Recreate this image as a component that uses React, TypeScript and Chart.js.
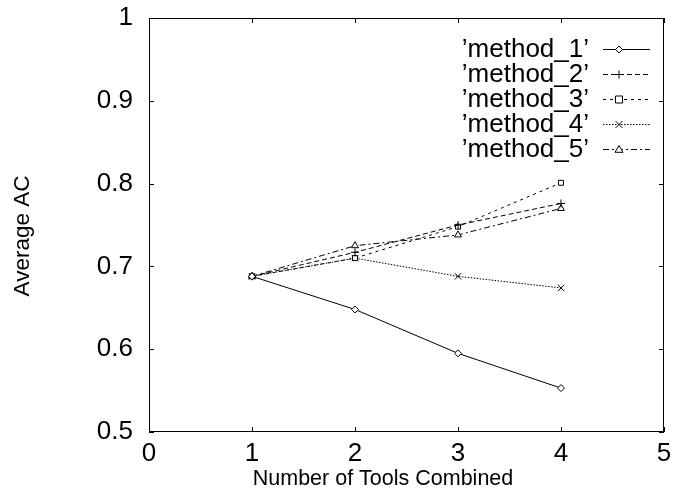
import React, { useEffect, useRef } from "react";
import { Chart, registerables } from "chart.js";

Chart.register(...registerables);

const toolCounts = [1, 2, 3, 4];
const method1 = [0.688, 0.648, 0.595, 0.553];
const method2 = [0.688, 0.717, 0.75, 0.776];
const method3 = [0.688, 0.71, 0.748, 0.801];
const method4 = [0.688, 0.71, 0.688, 0.674];
const method5 = [0.688, 0.725, 0.738, 0.77];
const seriesNames = ["\u2019method_1\u2019", "\u2019method_2\u2019", "\u2019method_3\u2019", "\u2019method_4\u2019", "\u2019method_5\u2019"];
const xTicks = [0, 1, 2, 3, 4, 5];
const yTicks = [0.5, 0.6, 0.7, 0.8, 0.9, 1];
const xTitle = "Number of Tools Combined";
const yTitle = "Average AC";

const FONT = "'Liberation Sans', Arial, Helvetica, sans-serif";

const styles = [
  { dash: [], point: "rectRot", radius: 3.5, fill: "#fff" },
  { dash: [5, 3], point: "cross", radius: 4, fill: "#fff" },
  { dash: [3, 4], point: "rect", radius: 3.5, fill: "#fff" },
  { dash: [1.5, 1.5], point: "crossRot", radius: 4.5, fill: "#fff" },
  { dash: [6, 3, 2, 3], point: "triangle", radius: 4, fill: "#fff" },
];

function drawMarker(ctx: CanvasRenderingContext2D, kind: string, r: number, x: number, y: number) {
  ctx.save();
  ctx.setLineDash([]);
  ctx.strokeStyle = "#000";
  ctx.fillStyle = "#fff";
  ctx.lineWidth = 1;
  ctx.beginPath();
  if (kind === "rectRot") {
    ctx.moveTo(x, y - r);
    ctx.lineTo(x + r, y);
    ctx.lineTo(x, y + r);
    ctx.lineTo(x - r, y);
    ctx.closePath();
    ctx.fill();
    ctx.stroke();
  } else if (kind === "rect") {
    ctx.rect(x - r, y - r, 2 * r, 2 * r);
    ctx.fill();
    ctx.stroke();
  } else if (kind === "cross") {
    ctx.moveTo(x - r, y);
    ctx.lineTo(x + r, y);
    ctx.moveTo(x, y - r);
    ctx.lineTo(x, y + r);
    ctx.stroke();
  } else if (kind === "crossRot") {
    const d = r * 0.75;
    ctx.moveTo(x - d, y - d);
    ctx.lineTo(x + d, y + d);
    ctx.moveTo(x - d, y + d);
    ctx.lineTo(x + d, y - d);
    ctx.stroke();
  } else if (kind === "triangle") {
    ctx.moveTo(x, y - r);
    ctx.lineTo(x + r, y + r * 0.7);
    ctx.lineTo(x - r, y + r * 0.7);
    ctx.closePath();
    ctx.fill();
    ctx.stroke();
  }
  ctx.restore();
}

const decorPlugin = {
  id: "decor",
  afterDraw(chart: any) {
    const ctx = chart.ctx;
    const a = chart.chartArea;
    const xs = chart.scales.x;
    const ys = chart.scales.y;
    ctx.save();
    ctx.strokeStyle = "#000";
    ctx.lineWidth = 1;
    ctx.setLineDash([]);
    ctx.strokeRect(a.left + 0.5, a.top + 0.5, a.right - a.left - 1, a.bottom - a.top - 1);
    ctx.beginPath();
    xTicks.forEach((v) => {
      const px = Math.round(xs.getPixelForValue(v)) + 0.5;
      ctx.moveTo(px, a.bottom);
      ctx.lineTo(px, a.bottom - 5);
      ctx.moveTo(px, a.top);
      ctx.lineTo(px, a.top + 5);
    });
    yTicks.forEach((v) => {
      const py = Math.round(ys.getPixelForValue(v)) + 0.5;
      ctx.moveTo(a.left, py);
      ctx.lineTo(a.left + 5, py);
      ctx.moveTo(a.right, py);
      ctx.lineTo(a.right - 5, py);
    });
    ctx.stroke();

    ctx.fillStyle = "#000";
    ctx.font = `21.5px ${FONT}`;
    ctx.textAlign = "center";
    ctx.textBaseline = "middle";
    ctx.fillText(xTitle, 383, 479);
    ctx.save();
    ctx.translate(23, 236);
    ctx.rotate(-Math.PI / 2);
    ctx.font = `22.5px ${FONT}`;
    ctx.fillText(yTitle, 0, 0);
    ctx.restore();

    seriesNames.forEach((name, i) => {
      const y = 49 + 25 * i;
      ctx.font = `26px ${FONT}`;
      ctx.textAlign = "right";
      ctx.textBaseline = "middle";
      ctx.fillStyle = "#000";
      ctx.fillText(name, 589, y + 1);
      ctx.beginPath();
      ctx.setLineDash(styles[i].dash);
      ctx.moveTo(603, y + 0.5);
      ctx.lineTo(650, y + 0.5);
      ctx.stroke();
      ctx.setLineDash([]);
      drawMarker(ctx, styles[i].point, styles[i].radius, 619, y + 0.5);
    });
    ctx.restore();
  },
};

export default function App() {
  const ref = useRef<HTMLCanvasElement>(null);
  useEffect(() => {
    const all = [method1, method2, method3, method4, method5];
    const datasets = all.map((vals, i) => ({
      label: seriesNames[i],
      data: toolCounts.map((x, j) => ({ x, y: vals[j] })),
      borderColor: "#000",
      backgroundColor: styles[i].fill,
      borderWidth: 1,
      borderDash: styles[i].dash,
      pointStyle: styles[i].point as any,
      pointRadius: styles[i].radius,
      pointBorderColor: "#000",
      pointBackgroundColor: styles[i].fill,
      pointBorderWidth: 1,
      tension: 0,
      fill: false,
    }));
    const chart = new Chart(ref.current!, {
      type: "line",
      data: { datasets },
      plugins: [decorPlugin],
      options: {
        animation: false,
        responsive: false,
        devicePixelRatio: 1,
        layout: { padding: { left: 0, top: 18, right: 13, bottom: 0 } },
        plugins: { legend: { display: false }, tooltip: { enabled: false } },
        scales: {
          x: {
            type: "linear",
            min: 0,
            max: 5,
            afterBuildTicks: (s: any) => {
              s.ticks = xTicks.map((v) => ({ value: v }));
            },
            afterFit: (s: any) => {
              s.height = 63;
              s.paddingLeft = 0;
              s.paddingRight = 0;
            },
            grid: { display: false, drawTicks: false },
            border: { display: false },
            ticks: {
              color: "#000",
              font: { family: FONT, size: 26 },
              padding: 6,
              maxRotation: 0,
              callback: (v: any) => String(v),
            },
          },
          y: {
            type: "linear",
            min: 0.5,
            max: 1,
            afterBuildTicks: (s: any) => {
              s.ticks = yTicks.map((v) => ({ value: v }));
            },
            afterFit: (s: any) => {
              s.width = 149;
              s.paddingTop = 0;
              s.paddingBottom = 0;
            },
            grid: { display: false, drawTicks: false },
            border: { display: false },
            ticks: {
              color: "#000",
              font: { family: FONT, size: 26 },
              padding: 16,
              callback: (v: any) => String(Math.round(v * 10) / 10),
            },
          },
        },
      },
    });
    return () => chart.destroy();
  }, []);
  return (
    <div style={{ position: "absolute", left: 0, top: 0, width: 677, height: 495, background: "#fff" }}>
      <canvas ref={ref} width={677} height={495} style={{ width: 677, height: 495, display: "block" }} />
    </div>
  );
}
